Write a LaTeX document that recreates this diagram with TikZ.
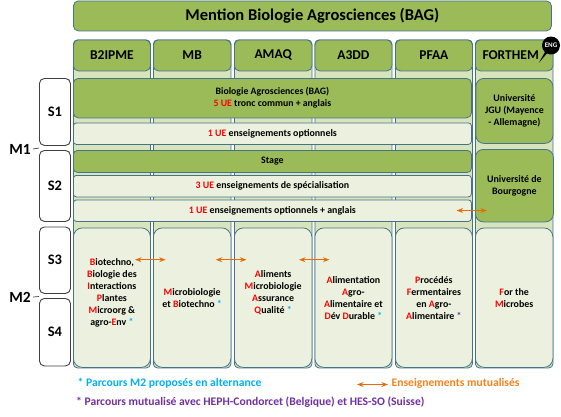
\documentclass[tikz,border=0pt]{standalone}
\usepackage{fontspec}
\setmainfont{Carlito}
\usepackage{xcolor}
\definecolor{bagGreen}{RGB}{155, 187, 89}
\definecolor{bagLight}{RGB}{235, 241, 222}
\definecolor{bagPale}{RGB}{216, 228, 188}
\definecolor{bagEdge}{RGB}{70, 115, 140}
\definecolor{ueRed}{RGB}{255, 0, 0}
\definecolor{altBlue}{RGB}{0, 176, 240}
\definecolor{mutOrange}{RGB}{228, 108, 10}
\definecolor{legOrange}{RGB}{247, 130, 30}
\definecolor{hephPurple}{RGB}{112, 48, 160}
\usepackage{tikz}
\usetikzlibrary{
    arrows.meta,
    positioning,
    shapes.callouts
}
\newcommand{\rl}[1]{\textcolor{ueRed}{#1}}
\newcommand{\ba}{\textcolor{altBlue}{*}}
\newcommand{\pu}{\textcolor{hephPurple}{*}}

\begin{document}
\begin{tikzpicture}[
    x=1pt, y=-1pt,
    colBack/.style={
        rectangle, rounded corners=4pt, anchor=north west,
        draw=bagEdge, line width=0.8pt, fill=bagPale, inner sep=0pt
    },
    greenBox/.style={
        rectangle, rounded corners=5pt, anchor=north west,
        draw=bagEdge, line width=0.8pt, fill=bagGreen, text=black,
        font=\fontsize{9.9}{12}\selectfont\bfseries,
        align=center, inner sep=0pt
    },
    lightBox/.style={
        greenBox, rounded corners=3pt, fill=bagLight
    },
    headBox/.style={
        greenBox, font=\fontsize{13.5}{15}\selectfont\bfseries
    },
    bottomBox/.style={
        greenBox, rounded corners=9pt, fill=bagLight
    },
    semBox/.style={
        rectangle, rounded corners=5pt, anchor=north west,
        draw=black!75, line width=0.9pt, fill=white,
        font=\fontsize{14.5}{16}\selectfont\bfseries, inner sep=0pt
    },
    yearLabel/.style={
        font=\fontsize{15.5}{17}\selectfont\bfseries, inner sep=0pt
    },
    yearTick/.style={
        draw=black!75, line width=0.7pt
    },
    mutArrow/.style={
        {Stealth[scale=0.7]}-{Stealth[scale=0.7]}, line width=1.4pt, draw=mutOrange
    },
    legendText/.style={
        font=\fontsize{11.6}{13}\selectfont\bfseries, inner sep=0pt, anchor=west
    }
]

    \useasboundingbox (0,0) rectangle (561,416);

    % Column backgrounds
    \node[colBack, minimum width=77pt, minimum height=328pt] (bB2) at (73,39.5) {};
    \node[colBack, minimum width=77.5pt, minimum height=328pt] (bMB) at (153,39.5) {};
    \node[colBack, minimum width=77.5pt, minimum height=328pt] (bAM) at (234,39.5) {};
    \node[colBack, minimum width=77pt, minimum height=328pt] (bA3) at (314.5,39.5) {};
    \node[colBack, minimum width=77pt, minimum height=328pt] (bPF) at (395,39.5) {};
    \node[colBack, minimum width=77.5pt, minimum height=328pt] (bFO) at (475,39.5) {};

    % Title
    \node[headBox, font=\fontsize{16.5}{20}\selectfont\bfseries, minimum width=478pt, minimum height=30pt] (hTitle) at (73,0.5) {Mention Biologie Agrosciences (BAG)};

    % Column headers
    \node[headBox, minimum width=77pt, minimum height=31pt] (hB2) at (73,39.5) {B2IPME};
    \node[headBox, minimum width=77.5pt, minimum height=31pt] (hMB) at (153,39.5) {MB};
    \node[headBox, minimum width=77.5pt, minimum height=31pt] (hAM) at (234,39.5) {AMAQ};
    \node[headBox, minimum width=77pt, minimum height=31pt] (hA3) at (314.5,39.5) {A3DD};
    \node[headBox, minimum width=77pt, minimum height=31pt] (hPF) at (395,39.5) {PFAA};
    \node[headBox, minimum width=77.5pt, minimum height=31pt] (hFO) at (475,39.5) {FORTHEM\hspace*{7pt}};

    % ENG badge
    \node[ellipse callout, fill=black, text=white, inner sep=0pt, minimum width=18pt, minimum height=18pt,
        callout relative pointer={(-7pt,-10pt)}, font=\fontsize{7}{8}\selectfont\bfseries] (bEng) at (551,45.5) {ENG};

    % Semesters
    \node[semBox, minimum width=31pt, minimum height=67pt] (sOne) at (39,78) {S1};
    \node[semBox, minimum width=31pt, minimum height=71pt] (sTwo) at (39,150) {S2};
    \node[semBox, minimum width=31pt, minimum height=66.5pt] (sThree) at (39,226.5) {S3};
    \node[semBox, minimum width=31pt, minimum height=67.5pt] (sFour) at (39,298) {S4};

    % Years
    \node[yearLabel] (yOne) at (20,149) {M1};
    \node[yearLabel] (yTwo) at (20,297) {M2};
    \coordinate (tOne) at (39,148);
    \coordinate (tTwo) at (39,296.5);
    \draw[yearTick] (yOne.east) ++(2pt,0) -- (tOne);
    \draw[yearTick] (yTwo.east) ++(2pt,0) -- (tTwo);

    % Common teaching
    \node[greenBox, font=\fontsize{9.8}{12}\selectfont\bfseries, minimum width=398pt, minimum height=39.5pt] (cBag) at (73,78) {Biologie Agrosciences (BAG)\\\rl{5 UE} tronc commun + anglais};
    \node[lightBox, minimum width=398pt, minimum height=21.5pt] (cOpt) at (73,122.5) {\rl{1 UE} enseignements optionnels};
    \node[greenBox, rounded corners=4pt, minimum width=398pt, minimum height=22pt] (cStage) at (73,150) {Stage};
    \node[lightBox, minimum width=398pt, minimum height=21.5pt] (cSpe) at (73,175) {\rl{3 UE} enseignements de spécialisation};
    \node[lightBox, minimum width=398pt, minimum height=21.5pt] (cAng) at (73,199.5) {\rl{1 UE} enseignements optionnels + anglais};

    % FORTHEM universities
    \node[greenBox, rounded corners=8pt, minimum width=77pt, minimum height=65pt] (uJgu) at (475.5,78) {Université\\JGU (Mayence\\- Allemagne)};
    \node[greenBox, rounded corners=8pt, minimum width=78pt, minimum height=72.5pt] (uBou) at (475,149) {Université de\\Bourgogne};

    % Master tracks
    \node[bottomBox, minimum width=77pt, minimum height=139.5pt] (pB2) at (73,227.5) {\rl{B}iotechno,\\\rl{B}iologie des\\\rl{I}nteractions\\\rl{P}lantes\\\rl{M}icroorg \&\\agro-\rl{E}nv \ba\\};
    \node[bottomBox, minimum width=77.5pt, minimum height=139.5pt] (pMB) at (153,227.5) {\rl{M}icrobiologie\\et \rl{B}iotechno \ba};
    \node[bottomBox, minimum width=77.5pt, minimum height=139.5pt] (pAM) at (234,227.5) {\rl{A}liments\\\rl{M}icrobiologie\\\rl{A}ssurance\\\rl{Q}ualité \ba\\};
    \node[bottomBox, minimum width=77pt, minimum height=139.5pt] (pA3) at (314.5,227.5) {\rl{A}limentation\\\rl{A}gro-\\\rl{A}limentaire et\\\rl{D}év \rl{D}urable \ba};
    \node[bottomBox, minimum width=77pt, minimum height=139.5pt] (pPF) at (395,227.5) {\rl{P}rocédés\\\rl{F}ermentaires\\en \rl{A}gro-\\\rl{A}limentaire \pu};
    \node[bottomBox, minimum width=77.5pt, minimum height=139.5pt] (pFO) at (475,227.5) {\rl{F}or the\\\rl{M}icrobes};

    % Shared teaching arrows
    \coordinate (aOneL) at (135,259.7);
    \coordinate (aOneR) at (165.7,259.7);
    \coordinate (aTwoL) at (215.7,259.7);
    \coordinate (aTwoR) at (246.5,259.7);
    \coordinate (aThreeL) at (299,259.7);
    \coordinate (aThreeR) at (329.5,259.7);
    \coordinate (aFourL) at (456.5,210.5);
    \coordinate (aFourR) at (487,210.5);
    \coordinate (aLegL) at (357,384.5);
    \coordinate (aLegR) at (388,384.5);
    \draw[mutArrow] (aOneL) -- (aOneR);
    \draw[mutArrow] (aTwoL) -- (aTwoR);
    \draw[mutArrow] (aThreeL) -- (aThreeR);
    \draw[mutArrow] (aFourL) -- (aFourR);
    \draw[mutArrow] (aLegL) -- (aLegR);

    % Legend
    \node[legendText, text=altBlue] (lAlt) at (77.5,383.5) {* Parcours M2 proposés en alternance};
    \node[legendText, text=legOrange] (lMut) at (391.5,383.5) {Enseignements mutualisés};
    \node[legendText, text=hephPurple] (lHep) at (76,402) {* Parcours mutualisé avec HEPH-Condorcet (Belgique) et HES-SO (Suisse)};

\end{tikzpicture}
\end{document}
